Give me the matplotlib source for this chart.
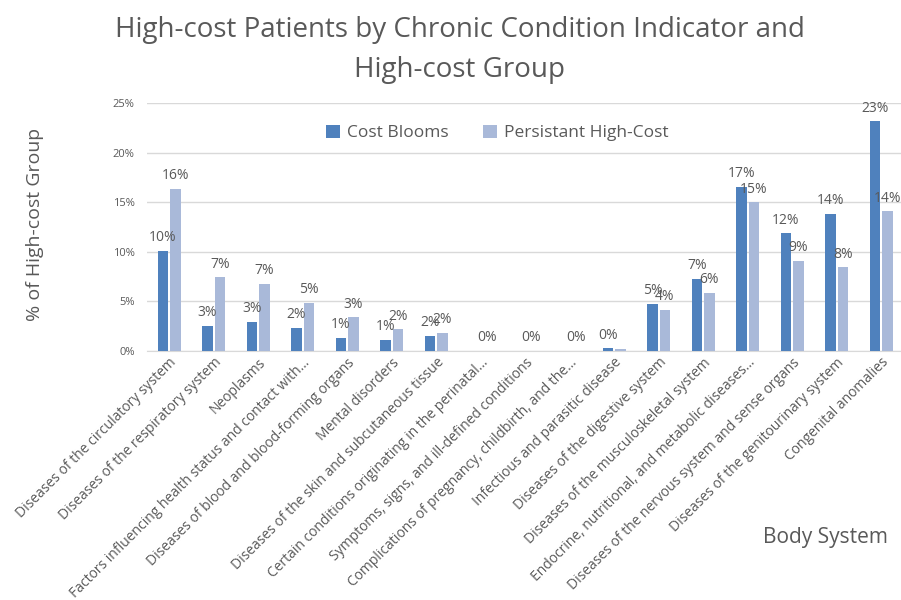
import numpy as np
import matplotlib
matplotlib.use("Agg")
import matplotlib.pyplot as plt

categories = [
    "Diseases of the circulatory system",
    "Diseases of the respiratory system",
    "Neoplasms",
    "Factors influencing health status and contact with…",
    "Diseases of blood and blood-forming organs",
    "Mental disorders",
    "Diseases of the skin and subcutaneous tissue",
    "Certain conditions originating in the perinatal…",
    "Symptoms, signs, and ill-defined conditions",
    "Complications of pregnancy, childbirth, and the…",
    "Infectious and parasitic disease",
    "Diseases of the digestive system",
    "Diseases of the musculoskeletal system",
    "Endocrine, nutritional, and metabolic diseases…",
    "Diseases of the nervous system and sense organs",
    "Diseases of the genitourinary system",
    "Congenital anomalies",
]

# percent of high-cost group
cost_blooms = [10.1, 2.55, 2.96, 2.35, 1.31, 1.11, 1.51, 0, 0, 0, 0.27,
               4.76, 7.29, 16.6, 11.9, 13.85, 23.2]
persistent = [16.4, 7.45, 6.8, 4.88, 3.4, 2.19, 1.85, 0, 0, 0, 0.2,
              4.18, 5.87, 15.0, 9.1, 8.47, 14.1]

# which bars carry a data label (zero categories only show one)
cost_show = [1, 1, 1, 1, 1, 1, 1, 0, 0, 0, 1, 1, 1, 1, 1, 1, 1]
persist_show = [1, 1, 1, 1, 1, 1, 1, 1, 1, 1, 0, 1, 1, 1, 1, 1, 1]

dark = "#4f81bd"
light = "#a9b9d9"
grey = "#595959"

plt.rcParams['font.family'] = ['Open Sans', 'DejaVu Sans']

fig = plt.figure(figsize=(9.01, 6.0), dpi=100)
ax = fig.add_axes([147 / 901, 249 / 600, 756.5 / 901, 247.7 / 600])

x = np.arange(len(categories))
w = 0.24
b1 = ax.bar(x - 0.14, cost_blooms, w, color=dark, label="Cost Blooms", zorder=3)
b2 = ax.bar(x + 0.14, persistent, w, color=light, label="Persistant High-Cost", zorder=3)

for bars, vals, show in [(b1, cost_blooms, cost_show), (b2, persistent, persist_show)]:
    for rect, v, s in zip(bars, vals, show):
        if not s:
            continue
        ax.annotate(f"{v:.0f}%", (rect.get_x() + rect.get_width() / 2, v),
                    xytext=(0, 4), textcoords="offset points",
                    ha="center", va="bottom", fontsize=10, color=grey)

ax.set_xlim(-0.5, len(categories) - 0.5)
ax.set_ylim(0, 25)
ax.set_yticks(range(0, 26, 5))
ax.set_yticklabels([f"{t}%" for t in range(0, 26, 5)])
ax.yaxis.grid(True, color="#d9d9d9", linewidth=1, zorder=0)
for side in ["top", "right", "left"]:
    ax.spines[side].set_visible(False)
ax.spines["bottom"].set_color("#d9d9d9")
ax.tick_params(axis="y", length=0, pad=9, labelsize=8, labelcolor=grey)
ax.tick_params(axis="x", length=0, pad=3, labelcolor=grey)
ax.set_xticks(x)
ax.set_xticklabels(categories, rotation=45, ha="right", rotation_mode="anchor",
                   fontsize=10.0)

ax.legend(loc="center", bbox_to_anchor=(0.463, 0.88), ncol=2, frameon=False,
          fontsize=12.5, handlelength=0.8, handleheight=0.8, handletextpad=0.4,
          columnspacing=2.0, labelcolor=grey)

fig.text(0.51, 1 - 16 / 600,
         "High-cost Patients by Chronic Condition Indicator and\nHigh-cost Group",
         ha="center", va="top", fontsize=20, color=grey, linespacing=1.55)
fig.text(35 / 901, 1 - 224 / 600, "% of High-cost Group", rotation=90,
         ha="center", va="center", fontsize=14, color=grey)
fig.text(825 / 901, 1 - 538 / 600, "Body System", ha="center", va="center",
         fontsize=15, color=grey)

fig.savefig("out.png", dpi=100)
